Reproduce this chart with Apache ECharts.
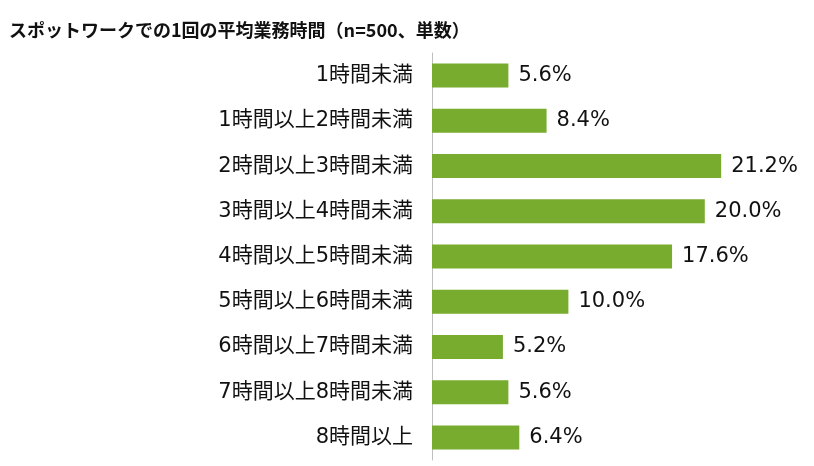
<!DOCTYPE html>
<html><head><meta charset="utf-8">
<script src="https://cdn.jsdelivr.net/npm/echarts@6/dist/echarts.min.js"></script>
<style>html,body{margin:0;padding:0;background:#fff}#c{width:814px;height:466px}</style>
</head><body><div id="c"></div>
<script>
const categories = ["1時間未満","1時間以上2時間未満","2時間以上3時間未満","3時間以上4時間未満","4時間以上5時間未満","5時間以上6時間未満","6時間以上7時間未満","7時間以上8時間未満","8時間以上"];
const values = [5.6, 8.4, 21.2, 20.0, 17.6, 10.0, 5.2, 5.6, 6.4];
const titleText = "スポットワークでの1回の平均業務時間（n=500、単数）";

const chart = echarts.init(document.getElementById('c'), null, {renderer:'canvas'});
chart.setOption({
  animation:false,
  backgroundColor:'#fff',
  title:{text:titleText,left:4,top:16,textStyle:{fontFamily:'"Noto Sans CJK JP"',fontWeight:'bold',fontSize:18,color:'#111'}},
  grid:{left:432,right:41,top:53,bottom:6,containLabel:false},
  xAxis:{type:'value',min:0,max:25,show:false},
  yAxis:{type:'category',data:categories,inverse:true,
    axisLine:{show:true,lineStyle:{color:'#bfbfbf',width:1}},
    axisTick:{show:false},
    axisLabel:{margin:19,fontSize:21,color:'#111',fontFamily:'"DejaVu Sans","Noto Sans CJK JP"'}},
  series:[{type:'bar',data:values,barWidth:24,itemStyle:{color:'#77AC2E'},
    label:{show:true,position:'right',distance:10,formatter:p=>p.value.toFixed(1)+'%',fontSize:21,color:'#111',fontFamily:'"DejaVu Sans"'}}]
});
</script></body></html>
